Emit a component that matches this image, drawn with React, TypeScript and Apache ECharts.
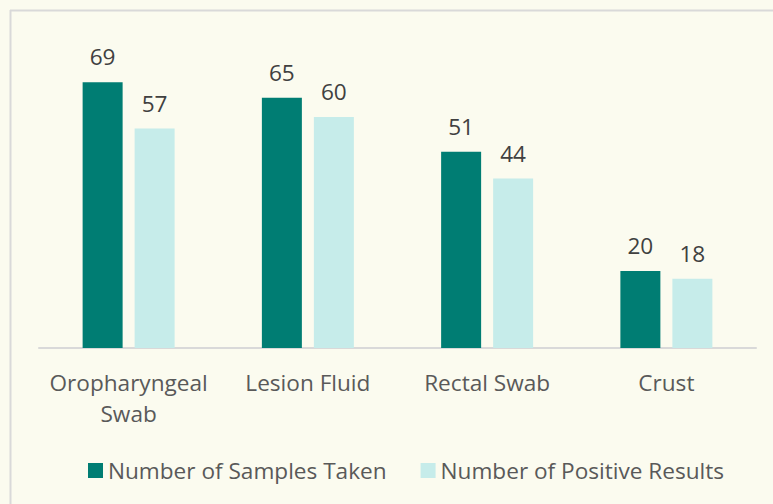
import React, { useEffect, useRef } from "react";
import * as echarts from "echarts";

const categories = ["Oropharyngeal\nSwab", "Lesion Fluid", "Rectal Swab", "Crust"];
const samplesTaken = [69, 65, 51, 20];
const positiveResults = [57, 60, 44, 18];
const seriesNames = ["Number of Samples Taken", "Number of Positive Results"];

const FONT = "'Open Sans', sans-serif";

export default function App() {
  const ref = useRef<HTMLDivElement>(null);
  useEffect(() => {
    const chart = echarts.init(ref.current!, null, { renderer: "svg" });
    chart.setOption({
      animation: false,
      backgroundColor: "#FBFBEF",
      textStyle: { fontFamily: FONT },
      grid: { left: 39, right: 17, top: 40, bottom: 156, containLabel: false },
      graphic: [
        { type: "line", shape: { x1: 10, y1: 10.5, x2: 773, y2: 10.5 }, style: { stroke: "#D9D9D9", lineWidth: 2 } },
        { type: "line", shape: { x1: 10.5, y1: 10, x2: 10.5, y2: 504 }, style: { stroke: "#D9D9D9", lineWidth: 2 } },
      ],
      legend: {
        bottom: 17,
        left: 83,
        itemWidth: 15,
        itemHeight: 15,
        itemGap: 34,
        icon: "rect",
        textStyle: { fontFamily: FONT, fontSize: 22.6, color: "#595959" },
        data: seriesNames,
      },
      xAxis: {
        type: "category",
        data: categories,
        axisLine: { lineStyle: { color: "#D9D9D9", width: 2 } },
        axisTick: { show: false },
        axisLabel: { interval: 0, fontFamily: FONT, fontSize: 22.6, color: "#595959", margin: 19, lineHeight: 31 },
      },
      yAxis: { type: "value", min: 0, max: 80, show: false, splitLine: { show: false } },
      series: [
        {
          name: seriesNames[0],
          type: "bar",
          data: samplesTaken,
          barWidth: 40,
          barGap: "30%",
          itemStyle: { color: "#007D73" },
          label: { show: true, position: "top", distance: 14, fontFamily: FONT, fontSize: 22.6, color: "#404040" },
        },
        {
          name: seriesNames[1],
          type: "bar",
          data: positiveResults,
          barWidth: 40,
          itemStyle: { color: "#C6ECEA" },
          label: { show: true, position: "top", distance: 14, fontFamily: FONT, fontSize: 22.6, color: "#404040" },
        },
      ],
    });
    return () => chart.dispose();
  }, []);
  return (
    <div style={{ position: "fixed", left: 0, top: 0, width: 773, height: 504, background: "#FBFBEF" }}>
      <div ref={ref} style={{ width: 773, height: 504 }} />
    </div>
  );
}
